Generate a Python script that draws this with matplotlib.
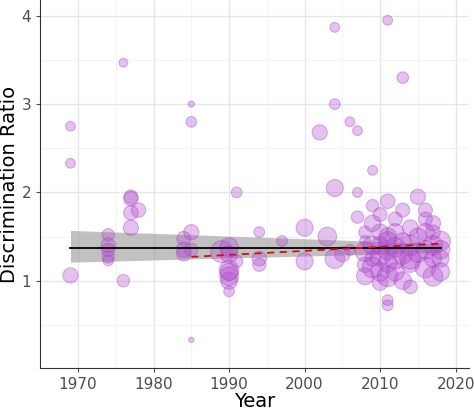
import matplotlib
matplotlib.use("Agg")
import matplotlib.pyplot as plt
import numpy as np

years = [1969,1969,1969,1974,1974,1974,1974,1974,1976,1976,1977,1977,1977,1977,1978,
         1984,1984,1984,1985,1985,1985,1985,1985,
         1989,1990,1990,1990,1990,1990,1991,1991,1990,1990,
         1994,1994,1994,1997,2000,2000,2002,2003,2004,2004,2004,2004,2005,
         2006,2006,2007,2007,2007,2008,2008,2008,2008,2008,2009,2009,2009,2009,2009,2009,
         2010,2010,2010,2010,2010,2010,2011,2011,2011,2011,2011,2011,2011,2011,2011,
         2012,2012,2012,2012,2012,2013,2013,2013,2013,2013,2014,2014,2014,2014,2014,
         2015,2015,2015,2016,2016,2016,2016,2016,2017,2017,2017,2017,2017,2018,2018,2018,2018]
ratio = [2.75,2.33,1.06,1.52,1.40,1.35,1.27,1.23,3.47,1.00,1.95,1.93,1.77,1.60,1.80,
         1.48,1.35,1.30,3.00,2.80,1.55,1.35,0.33,
         1.33,1.12,1.05,1.00,0.88,1.30,2.00,1.22,1.38,1.10,
         1.55,1.25,1.18,1.45,1.60,1.22,2.68,1.50,3.87,3.00,2.05,1.25,1.30,
         2.80,1.35,2.70,2.00,1.72,1.55,1.45,1.33,1.18,1.05,2.25,1.85,1.65,1.40,1.25,1.15,
         1.75,1.55,1.40,1.28,1.10,0.98,3.95,1.90,1.50,1.35,1.20,1.05,0.78,0.72,1.45,
         1.70,1.55,1.38,1.25,1.10,3.30,1.80,1.45,1.30,1.00,1.60,1.40,1.20,0.93,1.25,
         1.95,1.50,1.32,1.70,1.55,1.35,1.15,1.80,1.55,1.65,1.40,1.25,1.05,1.45,1.35,1.25,1.10]
sizes = [50,50,120,80,110,90,80,60,40,80,100,110,110,120,110,
         100,120,100,20,60,120,90,15,
         250,200,180,150,60,150,60,80,180,160,
         60,110,90,60,150,150,120,180,50,60,150,200,120,
         50,60,50,50,80,80,60,200,120,150,50,80,140,180,120,220,
         100,140,160,200,180,130,50,110,160,200,180,220,60,60,180,
         100,150,200,220,170,70,100,140,200,160,130,220,180,100,230,
         120,150,200,100,160,180,220,100,110,120,200,150,200,200,180,150,170]

x_ticks = [1970,1980,1990,2000,2010,2020]
y_ticks = [1,2,3,4]
overall_mean = 1.37
ci_start = (1.21, 1.57)
ci_end = (1.32, 1.42)
line_years = [1969, 2018]
trend_years = [1985, 2018]
trend_vals = [1.27, 1.42]

fig = plt.figure(figsize=(4.74,4.09), dpi=100)
ax = fig.add_axes([0.085, 0.1, 0.905, 0.9])
ax.fill_between(line_years, [ci_start[0], ci_end[0]], [ci_start[1], ci_end[1]],
                color='#999999', alpha=0.6, lw=0, zorder=2)
ax.scatter(years, ratio, s=sizes, color='#b34fd1', alpha=0.35, edgecolor='#9a3ab8',
           linewidth=0.8, zorder=3)
ax.plot(line_years, [overall_mean]*2, color='black', lw=1.3, zorder=4)
ax.plot(trend_years, trend_vals, color='#cc1111', lw=1.3, ls=(0,(4,3)), zorder=5)

ax.set_xlim(1965.6, 2021.8)
ax.set_ylim(0.01, 4.18)
ax.set_xticks(x_ticks)
ax.set_yticks(y_ticks)
ax.set_xticks([1965,1975,1985,1995,2005,2015], minor=True)
ax.set_yticks([0.5,1.5,2.5,3.5], minor=True)
ax.grid(True, which='major', color='#e6e6e6', lw=1.0)
ax.grid(True, which='minor', color='#f2f2f2', lw=0.6)
ax.set_axisbelow(True)
ax.tick_params(which='minor', length=0)
ax.tick_params(which='major', labelsize=11, colors='#4d4d4d', length=3)
for s in ['top','right']:
    ax.spines[s].set_visible(False)
for s in ['left','bottom']:
    ax.spines[s].set_color('#333333')
ax.set_xlabel('Year', fontsize=14, labelpad=0)
ax.set_ylabel('Discrimination Ratio', fontsize=14, labelpad=2)
fig.savefig('out.png', dpi=100)
